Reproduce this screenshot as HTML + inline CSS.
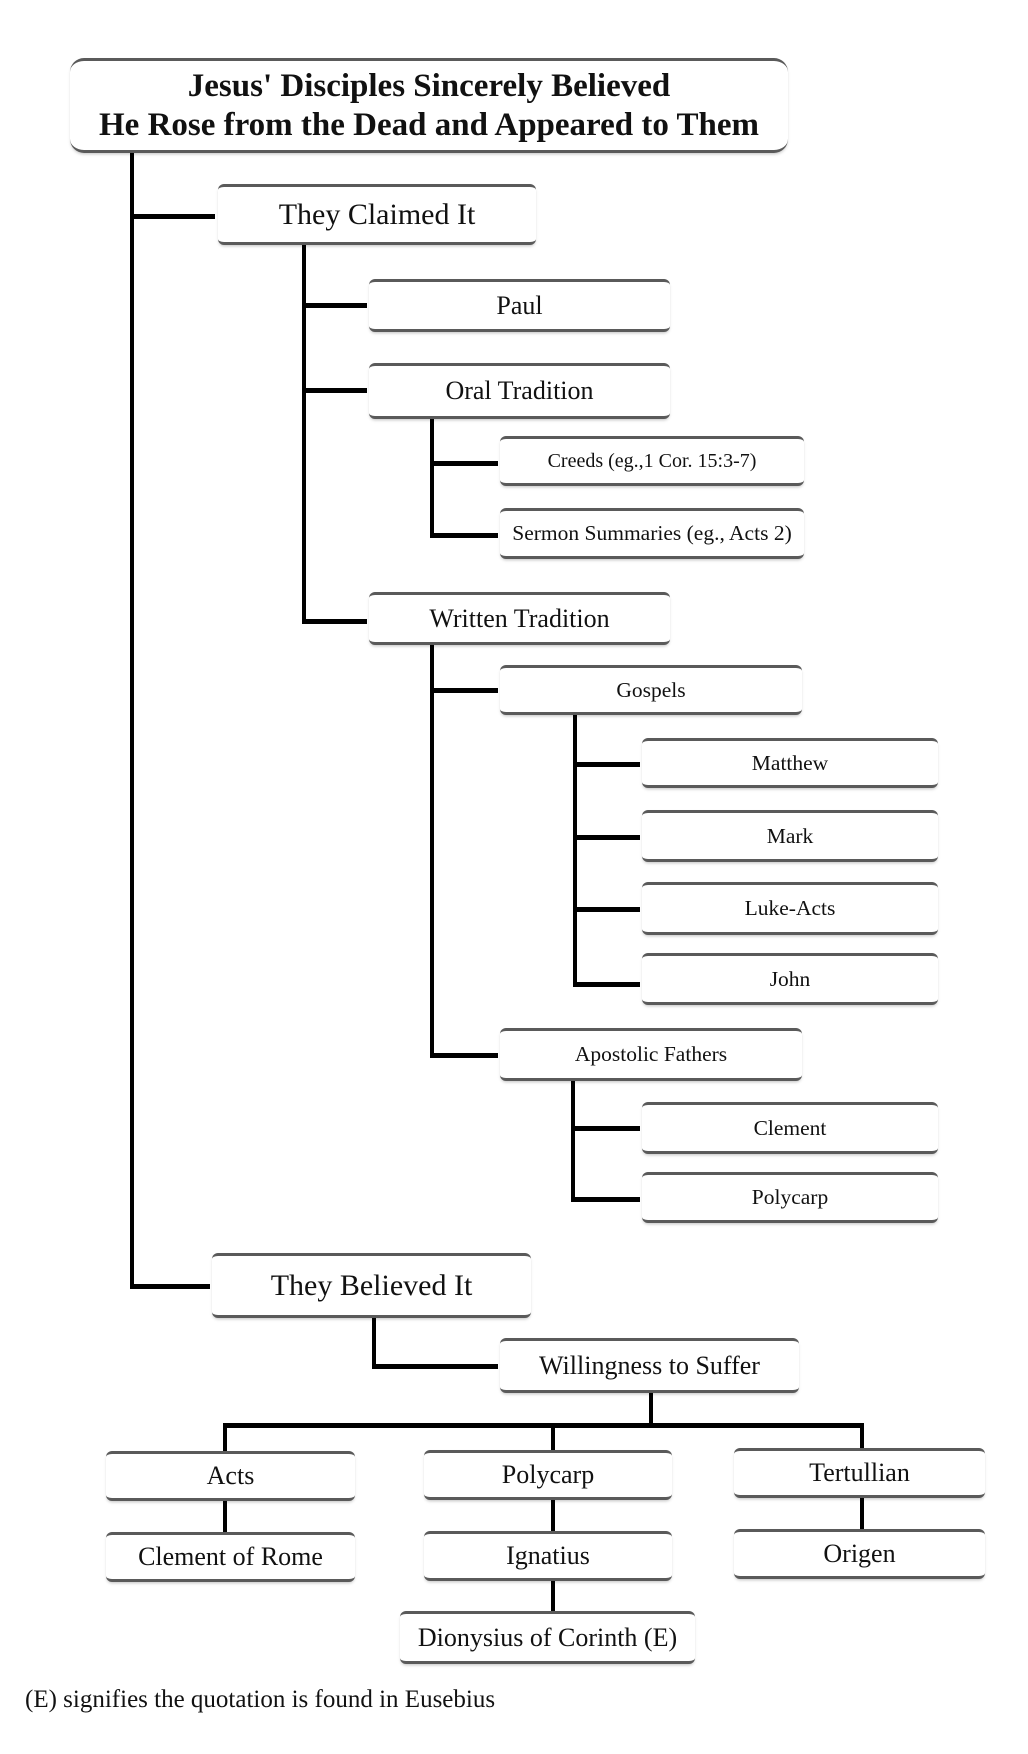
<!DOCTYPE html>
<html><head><meta charset="utf-8"><style>
body{margin:0;width:1028px;height:1754px;background:#fff;position:relative;overflow:hidden;font-family:"Liberation Serif",serif;color:#111}
.b{position:absolute;box-sizing:border-box;border-top:3px solid #5a5a5a;border-bottom:3px solid #5a5a5a;border-radius:6px;background:#fff;box-shadow:0 2px 3px -1px rgba(0,0,0,.25);display:flex;align-items:center;justify-content:center;text-align:center;white-space:nowrap}
.l{position:absolute;background:#000}
.s{font-size:21.5px}
.m{font-size:26px}
</style></head><body>
<div class="b" style="left:70px;top:58px;width:718px;height:95px;font-weight:bold;font-size:33px;line-height:39px;border-radius:14px">Jesus' Disciples Sincerely Believed<br>He Rose from the Dead and Appeared to Them</div>

<div class="l" style="left:130px;top:153px;width:4px;height:1136px"></div>
<div class="l" style="left:130px;top:214px;width:85px;height:5px"></div>
<div class="b" style="left:218px;top:184px;width:318px;height:61px;font-size:30px">They Claimed It</div>

<div class="l" style="left:302px;top:245px;width:4px;height:378px"></div>
<div class="l" style="left:302px;top:303px;width:65px;height:5px"></div>
<div class="b m" style="left:369px;top:279px;width:301px;height:53px">Paul</div>
<div class="l" style="left:302px;top:388px;width:65px;height:5px"></div>
<div class="b m" style="left:369px;top:363px;width:301px;height:56px">Oral Tradition</div>

<div class="l" style="left:430px;top:419px;width:4px;height:119px"></div>
<div class="l" style="left:430px;top:461px;width:68px;height:5px"></div>
<div class="b" style="left:500px;top:436px;width:304px;height:50px;font-size:20px">Creeds (eg.,1 Cor. 15:3-7)</div>
<div class="l" style="left:430px;top:533px;width:68px;height:5px"></div>
<div class="b" style="left:500px;top:508px;width:304px;height:51px;font-size:21.5px">Sermon Summaries (eg., Acts 2)</div>

<div class="l" style="left:302px;top:619px;width:65px;height:5px"></div>
<div class="b m" style="left:369px;top:592px;width:301px;height:53px">Written Tradition</div>

<div class="l" style="left:430px;top:645px;width:4px;height:413px"></div>
<div class="l" style="left:430px;top:688px;width:68px;height:5px"></div>
<div class="b s" style="left:500px;top:665px;width:302px;height:50px">Gospels</div>

<div class="l" style="left:573px;top:715px;width:4px;height:272px"></div>
<div class="l" style="left:573px;top:762px;width:67px;height:5px"></div>
<div class="b s" style="left:642px;top:738px;width:296px;height:50px">Matthew</div>
<div class="l" style="left:573px;top:835px;width:67px;height:5px"></div>
<div class="b s" style="left:642px;top:810px;width:296px;height:52px">Mark</div>
<div class="l" style="left:573px;top:907px;width:67px;height:5px"></div>
<div class="b s" style="left:642px;top:882px;width:296px;height:53px">Luke-Acts</div>
<div class="l" style="left:573px;top:982px;width:67px;height:5px"></div>
<div class="b s" style="left:642px;top:953px;width:296px;height:52px">John</div>

<div class="l" style="left:430px;top:1053px;width:68px;height:5px"></div>
<div class="b s" style="left:500px;top:1028px;width:302px;height:53px">Apostolic Fathers</div>

<div class="l" style="left:571px;top:1081px;width:4px;height:121px"></div>
<div class="l" style="left:571px;top:1126px;width:69px;height:5px"></div>
<div class="b s" style="left:642px;top:1102px;width:296px;height:52px">Clement</div>
<div class="l" style="left:571px;top:1197px;width:69px;height:5px"></div>
<div class="b s" style="left:642px;top:1172px;width:296px;height:51px">Polycarp</div>

<div class="l" style="left:130px;top:1284px;width:80px;height:5px"></div>
<div class="b" style="left:212px;top:1253px;width:319px;height:65px;font-size:30px">They Believed It</div>

<div class="l" style="left:372px;top:1318px;width:4px;height:51px"></div>
<div class="l" style="left:372px;top:1364px;width:126px;height:5px"></div>
<div class="b m" style="left:500px;top:1338px;width:299px;height:55px">Willingness to Suffer</div>

<div class="l" style="left:649px;top:1393px;width:4px;height:32px"></div>
<div class="l" style="left:223px;top:1423px;width:641px;height:5px"></div>
<div class="l" style="left:223px;top:1423px;width:4px;height:29px"></div>
<div class="l" style="left:551px;top:1423px;width:4px;height:29px"></div>
<div class="l" style="left:860px;top:1423px;width:4px;height:29px"></div>

<div class="b m" style="left:106px;top:1451px;width:249px;height:50px">Acts</div>
<div class="l" style="left:223px;top:1501px;width:4px;height:33px"></div>
<div class="b m" style="left:106px;top:1532px;width:249px;height:50px">Clement of Rome</div>

<div class="b m" style="left:424px;top:1450px;width:248px;height:50px">Polycarp</div>
<div class="l" style="left:551px;top:1500px;width:4px;height:32px"></div>
<div class="b m" style="left:424px;top:1531px;width:248px;height:50px">Ignatius</div>
<div class="l" style="left:551px;top:1581px;width:4px;height:31px"></div>
<div class="b m" style="left:400px;top:1611px;width:295px;height:53px">Dionysius of Corinth (E)</div>

<div class="b m" style="left:734px;top:1448px;width:251px;height:50px">Tertullian</div>
<div class="l" style="left:860px;top:1498px;width:4px;height:33px"></div>
<div class="b m" style="left:734px;top:1529px;width:251px;height:50px">Origen</div>

<div style="position:absolute;left:25px;top:1686px;font-size:25px;white-space:nowrap">(E) signifies the quotation is found in Eusebius</div>
</body></html>
